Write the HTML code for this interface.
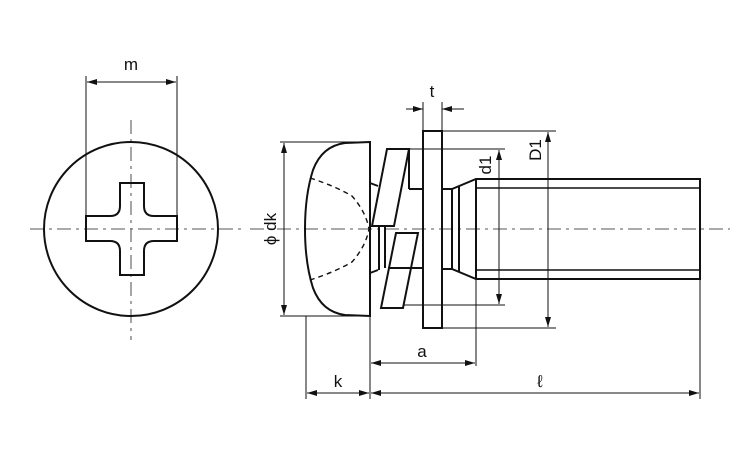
<!DOCTYPE html>
<html><head><meta charset="utf-8"><style>
html,body{margin:0;padding:0;background:#fff;}
svg{display:block;}
text{font-family:"Liberation Sans",sans-serif;font-size:17px;fill:#111;}
</style></head><body>
<svg width="750" height="450" viewBox="0 0 750 450" xmlns="http://www.w3.org/2000/svg">
<defs>
<marker id="a" viewBox="0 0 10 6" refX="10" refY="3" markerWidth="10" markerHeight="6" orient="auto-start-reverse" markerUnits="userSpaceOnUse"><path d="M0,0 L10,3 L0,6 z" fill="#111"/></marker>
</defs>
<g stroke="#777" stroke-width="1.3" stroke-dasharray="14,5,3,5" fill="none">
<line x1="30" y1="229" x2="242" y2="229"/>
<line x1="131" y1="120" x2="131" y2="340"/>
<line x1="250" y1="229" x2="730" y2="229"/>
</g>
<g fill="none" stroke="#111" stroke-width="2">
<circle cx="131" cy="229" r="87"/>
<path d="M120,183 H144 V206 Q144,216 154,216 H177 V241 H154 Q144,241 144,251 V275 H120 V251 Q120,241 110,241 H86 V216 H110 Q120,216 120,206 Z"/>
<!-- head -->
<path d="M370,142 L345,143 Q322,146 313,170 Q305,195 305,229 Q305,263 313,288 Q322,312 345,315 L370,316 Z"/>
<!-- spring washer -->
<path d="M387,149 H409 L394,226 H372 Z"/>
<path d="M396,233 H418 L403,308 H381 Z"/>
<line x1="409" y1="149" x2="409" y2="189"/>
<line x1="409" y1="189" x2="423" y2="189"/>
<line x1="388" y1="268" x2="423" y2="268"/>
<line x1="370" y1="183" x2="378" y2="186"/>
<line x1="370" y1="273" x2="378" y2="270"/>
<line x1="379" y1="226" x2="379" y2="270"/>
<line x1="385" y1="226" x2="385" y2="268"/>
<!-- flat washer -->
<rect x="423" y="131" width="19" height="197"/>
<!-- shank -->
<path d="M442,189 H452 L476,179 H700 V279 H476 L452,269 H442"/>
<line x1="452" y1="189" x2="452" y2="269"/>
<line x1="459" y1="186" x2="459" y2="272"/>
<line x1="476" y1="179" x2="476" y2="279"/>
</g>
<g stroke="#111" stroke-width="1.4" fill="none">
<line x1="476" y1="188" x2="700" y2="188"/>
<line x1="476" y1="270" x2="700" y2="270"/>
</g>
<path d="M310,178 Q335,186 352,196 Q366,212 369,229 Q366,246 352,262 Q335,272 310,280" fill="none" stroke="#111" stroke-width="1.4" stroke-dasharray="5,4"/>
<g stroke="#111" stroke-width="1" fill="none">
<line x1="86" y1="76" x2="86" y2="216"/>
<line x1="177" y1="76" x2="177" y2="216"/>
<line x1="87" y1="82" x2="176" y2="82" marker-start="url(#a)" marker-end="url(#a)"/>
<line x1="280" y1="142" x2="370" y2="142"/>
<line x1="280" y1="316" x2="370" y2="316"/>
<line x1="284" y1="143" x2="284" y2="315" marker-start="url(#a)" marker-end="url(#a)"/>
<line x1="423" y1="102" x2="423" y2="131"/>
<line x1="442" y1="102" x2="442" y2="131"/>
<line x1="406" y1="109" x2="423" y2="109" marker-end="url(#a)"/>
<line x1="464" y1="109" x2="442" y2="109" marker-end="url(#a)"/>
<line x1="409" y1="149" x2="505" y2="149"/>
<line x1="403" y1="305" x2="505" y2="305"/>
<line x1="499" y1="150" x2="499" y2="304" marker-start="url(#a)" marker-end="url(#a)"/>
<line x1="442" y1="131" x2="556" y2="131"/>
<line x1="430" y1="328" x2="556" y2="328"/>
<line x1="548" y1="132" x2="548" y2="327" marker-start="url(#a)" marker-end="url(#a)"/>
<line x1="306" y1="316" x2="306" y2="399"/>
<line x1="370" y1="316" x2="370" y2="399"/>
<line x1="476" y1="279" x2="476" y2="366"/>
<line x1="700" y1="279" x2="700" y2="399"/>
<line x1="371" y1="363" x2="475" y2="363" marker-start="url(#a)" marker-end="url(#a)"/>
<line x1="307" y1="393" x2="369" y2="393" marker-start="url(#a)" marker-end="url(#a)"/>
<line x1="371" y1="393" x2="699" y2="393" marker-start="url(#a)" marker-end="url(#a)"/>
</g>
<text x="131" y="70" text-anchor="middle">m</text>
<text x="432" y="97" text-anchor="middle">t</text>
<text x="422" y="357" text-anchor="middle">a</text>
<text x="338" y="387" text-anchor="middle">k</text>
<text x="540" y="387" text-anchor="middle">ℓ</text>
<text transform="translate(276,229) rotate(-90)" text-anchor="middle">ϕ dk</text>
<text transform="translate(491,165) rotate(-90)" text-anchor="middle">d1</text>
<text transform="translate(541,150) rotate(-90)" text-anchor="middle">D1</text>
</svg>
</body></html>
